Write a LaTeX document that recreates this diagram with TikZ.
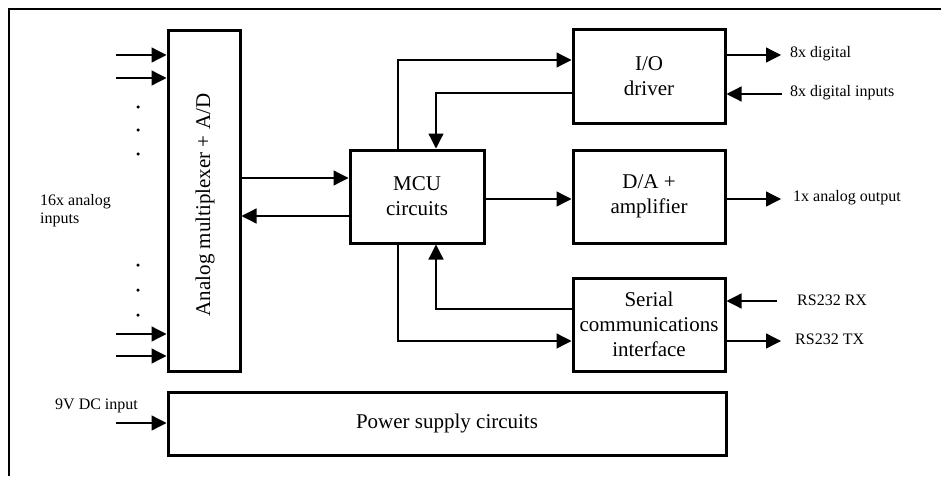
\documentclass[tikz,border=0pt]{standalone}
\usepackage{fontspec}
\setmainfont{Liberation Serif}
\usetikzlibrary{arrows.meta}
\tikzset{
  blk/.style={draw, line width=3pt, inner sep=0pt, align=center, font=\fontsize{21}{25}\selectfont},
  arr/.style={line width=1.3pt, -{Triangle[length=15pt,width=15pt]}},
  lbl/.style={inner sep=0pt, font=\fontsize{16}{18}\selectfont, align=left},
  dotmark/.style={circle, fill, inner sep=0pt, minimum size=3.5pt}
}
\begin{document}
\begin{tikzpicture}[x=1pt,y=-1pt]
\useasboundingbox (0,0) rectangle (941,476);
% frame
\draw[line width=1.3pt] (9,476) -- (9,9) -- (941,9);

% blocks
\node[blk, minimum width=72pt, minimum height=340pt] (mux) at (204,201) {};
\node[rotate=90, font=\fontsize{21}{25}\selectfont, inner sep=0pt] (muxt) at (205,205) {Analog multiplexer + A/D};
\node[blk, minimum width=134pt, minimum height=93pt] (mcu) at (417,196.5) {MCU\\circuits};
\node[blk, minimum width=152pt, minimum height=93pt] (io) at (649,76.5) {I/O\\driver};
\node[blk, minimum width=152pt, minimum height=93pt] (da) at (649,196.5) {D/A +\\amplifier};
\node[blk, minimum width=152pt, minimum height=93pt] (ser) at (649,324.5) {Serial\\communications\\interface};
\node[blk, minimum width=558pt, minimum height=63pt] (pwr) at (447,423.5) {Power supply circuits};

% analog inputs
\coordinate (a1) at (116,55);
\coordinate (a2) at (116,78);
\coordinate (a3) at (116,334);
\coordinate (a4) at (116,356);
\draw[arr] (a1) -- (a1 -| mux.west);
\draw[arr] (a2) -- (a2 -| mux.west);
\draw[arr] (a3) -- (a3 -| mux.west);
\draw[arr] (a4) -- (a4 -| mux.west);
\node[dotmark] (d1) at (138,107) {};
\node[dotmark] (d2) at (138,130) {};
\node[dotmark] (d3) at (138,154) {};
\node[dotmark] (d4) at (138,265) {};
\node[dotmark] (d5) at (138,290) {};
\node[dotmark] (d6) at (138,315) {};
\node[lbl, anchor=north west] (ain) at (40,194) {16x analog\\inputs};

% power input
\coordinate (dc) at (116,423);
\draw[arr] (dc) -- (dc -| pwr.west);
\node[lbl, anchor=west] (dcl) at (55,406) {9V DC input};

% mux <-> mcu
\draw[arr] (mux.east |- 0,178) -- (mcu.west |- 0,178);
\draw[arr] (mcu.west |- 0,216) -- (mux.east |- 0,216);

% mcu <-> io
\draw[arr] (mcu.north -| 398,0) |- (io.west |- 0,60);
\draw[arr] (io.west |- 0,93) -| (mcu.north -| 436,0);

% mcu -> da
\draw[arr] (mcu.east |- 0,199) -- (da.west |- 0,199);

% mcu <-> serial
\draw[arr] (ser.west |- 0,309) -| (mcu.south -| 436,0);
\draw[arr] (mcu.south -| 398,0) |- (ser.west |- 0,341);

% right side
\coordinate (o1) at (781,55);
\coordinate (o2) at (782,94);
\coordinate (o3) at (781,199);
\coordinate (o4) at (777,301);
\coordinate (o5) at (781,341);
\draw[arr] (o1 -| io.east) -- (o1);
\draw[arr] (o2) -- (o2 -| io.east);
\draw[arr] (o3 -| da.east) -- (o3);
\draw[arr] (o4) -- (o4 -| ser.east);
\draw[arr] (o5 -| ser.east) -- (o5);
\node[lbl, anchor=west] (l1) at (790,54) {8x digital};
\node[lbl, anchor=west] (l2) at (790,93) {8x digital inputs};
\node[lbl, anchor=west] (l3) at (793,198) {1x analog output};
\node[lbl, anchor=west] (l4) at (797,300) {RS232 RX};
\node[lbl, anchor=west] (l5) at (795,339) {RS232 TX};
\end{tikzpicture}
\end{document}
